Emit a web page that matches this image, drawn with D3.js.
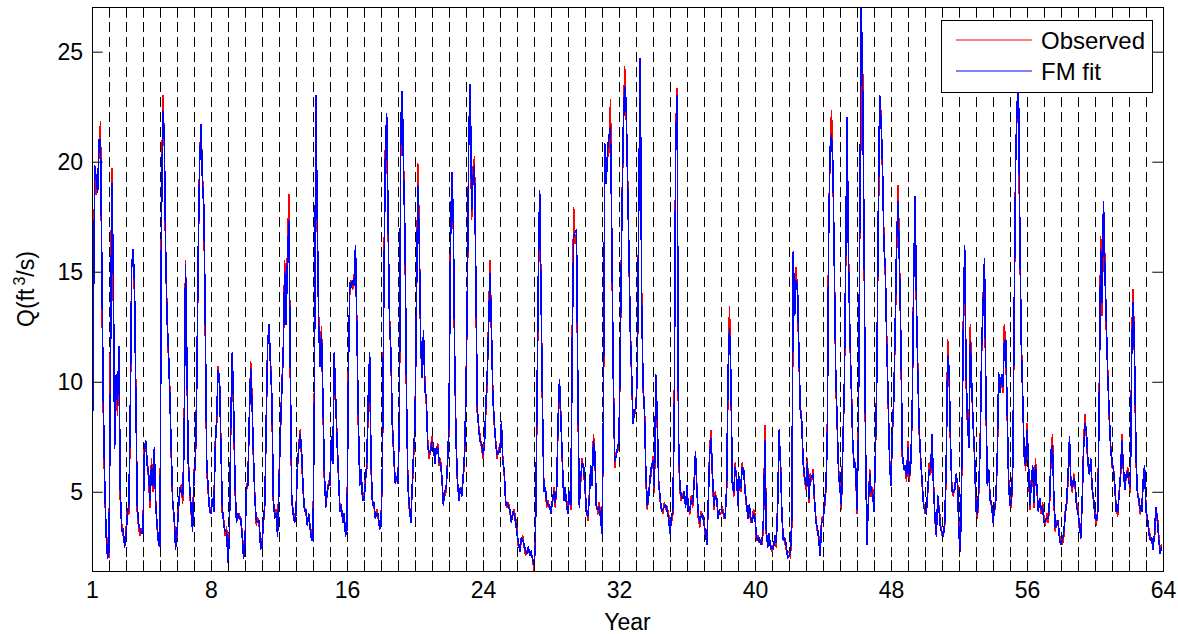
<!DOCTYPE html>
<html>
<head>
<meta charset="utf-8">
<script src="https://cdn.jsdelivr.net/npm/d3@7"></script>
<style>
  html, body { margin: 0; padding: 0; background: #fff; }
  svg { display: block; font-family: "Liberation Sans", Arial, Helvetica, sans-serif; }
</style>
</head>
<body>
<svg id="chart" width="1178" height="634"></svg>
<script>
// ---- data (monthly values, one row per year) ----
const observed = [
  5,15,19.5,18.5,19,20.5,21.8,14,8.5,5,3.2,2.5,
  2.0,12,19.7,14,7.5,10,8.5,11.0,4.5,3.5,3.0,2.8,
  3.2,4.2,4.0,8,15.5,15.7,14,9.5,4,3.3,3.0,3.3,
  3.3,7.2,7.0,6.5,5.5,4.3,6.5,5.0,6.8,4.5,3.3,2.8,
  2.7,17.5,23,21,15.5,13.2,11,9.6,6.5,4.3,4.0,2.5,
  3.0,4.3,5.0,5.3,4.5,7.5,15.5,10.5,6.5,5.0,4.0,3.4,
  6,6.0,10.3,15.6,20.4,21.5,19.4,17.5,12,6,5,4.3,
  4.2,4.5,4.3,7.3,8.0,10.7,10,7.3,4.0,3.7,3.0,3.4,
  2.0,3.2,8.0,10.8,8.5,5,3.8,3.8,4.0,3.6,3.2,2.2,
  2.8,5.0,5.6,8,10.9,9.3,6.3,4.8,3.5,3.8,3.5,2.6,
  2.7,3.5,4.6,8.0,12.0,12.2,11,9,4.5,4.0,4.2,3.2,
  5.6,7.5,10,11,15.5,13,16,18.5,10,4.5,4.2,3.8,
  4.2,6.0,7.2,7.8,6.5,5.0,4.3,4.0,3.7,3.8,3.5,3.0,
  3.0,10,22.3,17,13,11,12.5,9,5.6,4.5,4.8,5.5,
  5.5,7.3,6.5,10.8,9.0,7.5,5.6,4.3,4.2,3.8,3.8,3.2,
  3.5,11,14.2,14.6,14.2,14.8,15.5,12.6,8,5.5,5.8,4.8,
  4.8,5.6,6.1,9.0,10.8,6,4.6,4.3,4.0,4.2,3.8,3.5,
  3.7,5.8,14.6,20.5,21.5,17,13.1,11,8.3,6.5,5.6,5.5,
  5.6,8,21.3,22.5,19.7,16,9,5.5,4.2,3.8,5.0,6.5,
  8.3,13,19.9,16.9,11.5,10.5,12,10,9,7.3,6.5,7.0,
  7.5,7.0,6.5,6.8,7.2,6.2,6.5,5.5,4.6,4.8,5.0,6.5,
  7.8,16.4,19.0,17.2,10.9,7.5,5.3,4.8,5.0,5.0,5.5,6.5,
  9.8,14,21.7,22.8,17.4,19.7,20.2,14,8.5,8.0,7.5,7.0,
  6.5,7.2,8.6,10,13,15.5,12,9.5,8.0,7.3,6.5,7.0,
  7.0,8.0,6.5,5.8,4.6,4.3,4.5,4.0,3.8,3.9,4.2,3.8,
  3.3,2.5,2.4,2.7,3.0,2.5,2.1,2.3,2.4,2.2,2.1,2.0,
  1.4,2.8,8,14.2,18.0,14.4,8.5,5.2,5.0,4.3,4.6,4.2,
  4.2,4.4,5.2,4.3,5.3,8,9.7,8.5,6.3,4.8,5.0,4.6,
  4.2,4.8,4.2,12.3,17.9,16.3,16.5,9,4.5,5.5,6.5,6.0,
  5.1,4.3,3.7,4.8,6.0,5.5,7.6,6.5,4.5,4.0,4.5,4.0,
  3.3,8,20.3,19.5,20.2,20.5,22.8,15.6,10.4,6.1,6.8,6.8,
  7.5,11.6,17.7,21.0,24.3,22.3,19.7,15.6,12.6,9.8,8.3,8.5,
  9.0,10.3,18.9,24.0,14.2,9.6,9.0,5.5,4.2,5.0,5.5,6.0,
  6.6,5.0,9.8,8,5.5,4.6,4.3,4.0,4.5,4.2,4.3,4.0,
  3.3,3.6,4.0,9,21.3,23.3,7,5.0,4.6,4.9,4.8,4.5,
  5.1,4.3,4.0,4.8,4.3,5.5,6.5,5.2,3.8,3.4,4.1,3.8,
  3.7,3.0,2.8,4.3,7.0,7.8,5.5,4.2,5.0,4.5,4.0,4.0,
  4.0,4.3,3.8,4.0,5,10,13.4,9.9,5.5,4.8,6.3,5.5,
  4.6,5.5,5.0,6.3,5.8,5.2,4.3,4.0,4.2,3.6,3.8,4.2,
  4.0,2.8,3.0,2.7,2.8,2.6,3.5,8.0,3.0,2.7,2.9,2.6,
  2.3,2.6,2.8,2.5,4.5,7.4,6.5,3.8,3.0,2.7,2.4,2.2,
  2.3,2.0,3.5,15.0,13.4,15.2,14,11,9,8,6.5,5.5,
  5.1,6.5,4.5,5.8,5.5,6.0,4.5,3.8,3.2,3.0,2.3,3.8,
  3.8,4.2,5.0,7.6,17.2,20.2,22.3,19.5,15.6,10,8.0,6.0,
  5.3,4.2,7.3,9.3,15,21.3,16,11.8,10,7,6.3,6.1,
  4.0,8,17.2,22.5,24.3,16,7,3.0,4.3,6.0,4.8,5.2,
  4.3,6.5,10.5,17,21.5,22.3,19.5,16.6,14.8,12,9,6.5,
  5.5,7.5,9.5,12.3,16,18.9,15.6,11.5,6.5,6.2,6.0,5.5,
  7.3,5.5,6.5,8.5,15,17.8,13.1,10.5,7.5,6.5,5.3,4.5,
  4.0,4.2,5.0,6.3,5.8,7.3,5.5,3.7,3.2,4.6,4.3,3.5,
  3.0,3.2,3.5,6,11.9,10.3,7,5.2,4.8,5.3,5.6,5.5,
  3.2,2.5,6,12.6,15.5,10,8,7.3,12.6,9.6,8.2,6.5,
  4.3,3.8,5,7.5,11.3,13.9,15.0,9,5.5,5.8,4.8,4.3,
  3.8,4.0,4.8,6.3,10,9.8,10,9.5,12.6,11.5,8.5,5.6,
  4.6,4.3,6.5,13,20.5,22.2,22.0,16,12,9,6.8,6.0,
  8.1,6.3,4.2,5.5,6.0,4.3,6.5,5.0,4.3,4.5,4.0,4.5,
  3.8,3.5,4.0,3.6,4.5,6.6,7.6,4.5,3.2,3.7,3.5,3.0,
  2.8,2.6,3.0,4.1,4.4,5.5,7.0,5.5,5.0,5.8,5.2,4.5,
  4.3,3.3,3.1,4.5,7.3,8.5,7.4,6.2,6.0,6.3,5.3,4.5,
  4.0,3.5,4.3,9.6,16.6,13,17.5,15.6,12.3,10.5,8.4,7.2,
  6.1,6.2,5.1,4.3,3.9,5,5.5,7.6,6,5.3,5.6,6.1,
  5.6,5.0,12.3,14.2,10.5,6.3,5.0,4.5,4.0,4.3,5.3,6.0,
  4.3,3.7,3.3,3.0,2.7,2.6,2.9,3.8,4.0,3.0,2.4,2.6
];
const fmFit = [
  4.2,13,19.8,19.2,18.6,21.0,21.0,15,9.0,5.4,3.0,2.0,
  2.3,10,19.0,15.3,7.0,10.3,9.0,11.6,5.0,3.2,3.3,2.5,
  3.0,4.0,4.4,8.6,15.2,16.0,14.5,9.0,4.3,3.5,3.3,3.1,
  3.1,7.0,7.3,6.2,5.8,4.6,6.2,5.3,7.0,4.3,3.5,2.6,
  2.5,17.0,22.3,21.3,16.0,12.8,11.4,9.2,6.8,4.5,3.8,2.4,
  3.2,4.1,5.2,5.0,4.8,7.0,15.3,11.0,6.2,5.2,4.2,3.2,
  5.8,6.3,10.0,16.0,20.0,21.7,19.0,17.9,12.5,6.3,5.2,4.1,
  4.0,4.7,4.1,7.0,8.4,10.5,10.3,7.0,4.3,3.5,3.2,3.2,
  1.8,3.0,8.3,11.3,8.8,5.3,3.6,4.0,3.8,3.8,3.0,2.0,
  2.6,5.2,5.3,8.3,10.6,9.0,6.6,4.6,3.7,3.6,3.7,2.4,
  2.5,3.7,4.4,8.3,11.7,12.6,10.7,9.3,4.7,3.8,4.0,3.0,
  5.3,7.8,9.6,11.4,15.0,12.6,15.7,17.3,10.5,4.7,4.0,3.6,
  4.0,6.2,7.0,7.6,6.8,5.2,4.1,4.2,3.5,4.0,3.3,2.8,
  2.8,9.5,23.0,17.6,12.6,10.7,12.2,9.3,5.9,4.3,5.0,5.3,
  5.3,7.5,6.3,11.3,9.3,7.2,5.8,4.1,4.4,3.6,4.0,3.0,
  3.3,10.5,14.5,14.3,14.6,14.4,16.2,12.2,8.4,5.3,6.0,4.6,
  4.6,5.4,6.4,9.3,11.3,6.3,4.4,4.5,3.8,4.0,4.0,3.3,
  3.5,6.2,14.0,20.0,22.2,17.5,12.7,11.4,8.0,6.8,5.4,5.7,
  5.4,8.4,21.8,23.2,19.3,16.5,9.4,5.2,4.4,3.6,5.2,6.8,
  8.0,13.4,18.9,16.5,11.9,10.2,12.3,9.6,9.3,7.0,6.8,6.8,
  7.3,7.2,6.3,7.0,7.0,6.4,6.3,5.7,4.4,5.0,5.2,6.3,
  8.2,16.0,19.5,17.6,11.3,7.2,5.5,4.6,5.2,4.8,5.7,6.8,
  9.5,14.5,21.3,23.5,17.8,19.3,19.8,14.5,8.8,7.8,7.3,7.2,
  6.7,7.0,8.9,10.4,12.6,14.9,12.4,9.2,8.2,7.1,6.7,6.8,
  6.8,8.2,6.3,6.0,4.4,4.5,4.3,4.2,3.6,4.1,4.0,3.6,
  3.1,2.7,2.3,2.9,2.8,2.6,2.3,2.2,2.5,2.1,2.3,1.9,
  1.7,2.6,8.5,14.6,18.7,13.8,8.9,5.0,5.2,4.5,4.4,4.4,
  4.0,4.6,5.0,4.5,5.1,8.3,10.1,8.2,6.5,4.6,5.2,4.4,
  4.0,5.0,4.4,11.8,16.6,16.8,16.9,9.5,4.3,5.7,6.3,6.2,
  5.3,4.1,3.9,4.6,6.2,5.3,7.3,6.8,4.3,4.2,4.3,3.8,
  3.1,8.5,20.8,19.0,20.6,21.2,21.6,16.2,10.0,6.4,6.6,7.0,
  7.3,12.0,17.3,21.5,23.4,22.8,19.3,16.0,12.2,10.2,8.1,8.7,
  8.8,10.6,18.4,24.7,13.6,9.9,8.6,5.8,4.4,4.8,5.7,6.2,
  6.4,5.2,10.3,8.4,5.3,4.8,4.1,4.2,4.3,4.4,4.1,3.8,
  3.1,3.8,4.2,8.4,20.8,23.0,7.5,5.2,4.8,4.7,5.0,4.3,
  5.3,4.1,4.2,4.6,4.5,5.3,6.8,5.0,4.0,3.6,3.9,4.0,
  3.5,3.2,2.6,4.5,6.7,7.4,5.8,4.4,4.8,4.7,3.8,4.2,
  4.2,4.1,4.0,3.8,5.3,10.5,12.4,10.3,5.3,5.0,6.1,5.7,
  4.4,5.7,5.2,6.1,6.0,5.0,4.5,3.8,4.4,3.8,3.6,4.0,
  3.8,3.0,2.8,2.9,2.6,2.8,3.8,7.3,3.2,2.5,3.1,2.4,
  2.5,2.4,3.0,2.7,4.3,7.8,6.2,4.0,2.8,2.9,2.6,2.0,
  2.1,2.2,3.8,15.9,13.0,14.6,14.4,11.4,8.7,8.2,6.3,5.7,
  5.3,6.3,4.7,5.6,5.7,5.8,4.7,3.6,3.4,2.8,2.1,3.6,
  3.6,4.4,5.2,7.2,16.6,20.6,21.2,19.9,15.2,10.4,8.2,5.8,
  5.1,4.4,7.0,9.6,15.5,22.0,15.5,12.2,9.6,7.3,6.1,6.3,
  4.2,7.6,17.6,27.0,23.5,16.5,7.4,2.6,4.5,5.8,5.0,5.0,
  4.1,6.8,10.2,17.5,23.0,21.8,19.9,16.2,15.2,11.6,9.3,6.3,
  5.3,7.8,9.2,12.7,16.5,18.2,15.2,11.9,6.8,6.0,6.2,5.7,
  7.0,5.7,6.3,8.9,14.6,18.4,13.5,10.1,7.8,6.3,5.5,4.3,
  4.2,4.0,5.2,6.0,6.0,7.6,5.2,3.9,3.0,4.8,4.1,3.3,
  3.2,3.0,3.7,6.4,11.2,10.6,7.3,5.0,5.0,5.1,5.8,5.3,
  3.0,2.3,6.4,12.2,16.2,10.4,8.3,7.0,11.8,9.9,8.0,6.7,
  4.1,4.0,5.3,7.2,11.6,13.5,15.6,9.4,5.3,6.0,4.6,4.5,
  3.6,4.2,4.6,6.6,10.4,9.5,10.3,9.8,11.8,11.9,8.8,5.4,
  4.4,4.5,6.2,13.5,20.0,22.6,23.5,16.5,11.6,9.3,6.6,6.2,
  7.8,6.5,4.4,5.3,6.2,4.5,6.2,5.2,4.1,4.7,4.2,4.3,
  3.6,3.7,3.8,3.8,4.7,6.9,7.1,4.7,3.4,3.5,3.7,2.8,
  2.6,2.8,3.2,3.9,4.6,5.8,7.5,5.3,5.2,5.6,5.4,4.3,
  4.1,3.5,2.9,4.7,7.0,8.1,7.7,6.4,5.8,6.5,5.1,4.7,
  3.8,3.7,4.1,9.2,16.0,13.6,18.2,15.0,12.7,10.2,8.7,7.0,
  6.3,6.0,5.3,4.1,4.1,4.8,5.8,7.3,6.2,5.1,5.8,5.9,
  5.4,5.2,11.8,13.6,10.9,6.6,4.8,4.7,4.2,4.1,5.5,6.2,
  4.1,3.9,3.1,2.8,2.9,2.4,3.1,4.3,3.8,2.8,2.2,2.5
];
const seriesNames = ["Observed", "FM fit"];
const seriesColors = ["#ff0000", "#0000ff"];
const startYear = 1;
const samplesPerYear = 12;
const xDomain = [1, 64];
const yDomain = [1.4, 27.03];
const xTickLabels = [1, 8, 16, 24, 32, 40, 48, 56, 64];
const yTickLabels = [5, 10, 15, 20, 25];
const xLabel = "Year";

// ---- layout ----
const W = 1178, H = 634;
const m = { left: 92, right: 1163, top: 7, bottom: 571 };
const svg = d3.select("#chart");
svg.append("rect").attr("width", W).attr("height", H).attr("fill", "#fff");

const x = d3.scaleLinear().domain(xDomain).range([m.left, m.right]);
const y = d3.scaleLinear().domain(yDomain).range([m.bottom, m.top]);

const clipId = "plotclip";
svg.append("clipPath").attr("id", clipId).append("rect")
  .attr("x", m.left).attr("y", m.top).attr("width", m.right - m.left).attr("height", m.bottom - m.top);

// dashed year separators
const yearLines = d3.range(xDomain[0] + 1, xDomain[1]);
svg.append("g").attr("class", "grid").selectAll("line").data(yearLines).join("line")
  .attr("x1", d => Math.round(x(d)) + 0.5).attr("x2", d => Math.round(x(d)) + 0.5)
  .attr("y1", m.top).attr("y2", m.bottom)
  .attr("stroke", "#000").attr("stroke-width", 1)
  .attr("stroke-dasharray", "10,5");

// series
const tOf = i => startYear + i / samplesPerYear;
const line = d3.line().x((d, i) => x(tOf(i))).y(d => y(d));
const gLines = svg.append("g").attr("clip-path", `url(#${clipId})`);
[observed, fmFit].forEach((s, k) => {
  gLines.append("path").datum(s)
    .attr("d", line)
    .attr("fill", "none")
    .attr("stroke", seriesColors[k])
    .attr("stroke-width", 1.6)
    .attr("stroke-linejoin", "round")
    .attr("stroke-linecap", "round")
    .attr("shape-rendering", "crispEdges");
});

// axes (MATLAB-like: inward ticks, box)
const tickLen = 10.7;
const fontSize = 23;
const xAxisB = d3.axisBottom(x).tickValues(d3.range(xDomain[0], xDomain[1] + 1))
  .tickSizeInner(-tickLen).tickSizeOuter(0)
  .tickFormat(d => xTickLabels.includes(d) ? d : "");
const gx = svg.append("g").attr("transform", `translate(0,${m.bottom})`).call(xAxisB);
gx.selectAll("text").attr("font-size", fontSize).attr("fill", "#000").attr("dy", "1.05em")
  .attr("font-family", '"Liberation Sans", Arial, sans-serif');
const xAxisT = d3.axisTop(x).tickValues(d3.range(xDomain[0], xDomain[1] + 1))
  .tickSizeInner(-tickLen).tickSizeOuter(0).tickFormat("");
svg.append("g").attr("transform", `translate(0,${m.top})`).call(xAxisT);

const yAxisL = d3.axisLeft(y).tickValues(yTickLabels).tickSizeInner(-tickLen).tickSizeOuter(0).tickPadding(9);
const gy = svg.append("g").attr("transform", `translate(${m.left},0)`).call(yAxisL);
gy.selectAll("text").attr("font-size", fontSize).attr("fill", "#000")
  .attr("font-family", '"Liberation Sans", Arial, sans-serif');
const yAxisR = d3.axisRight(y).tickValues(yTickLabels).tickSizeInner(-tickLen).tickSizeOuter(0).tickFormat("");
svg.append("g").attr("transform", `translate(${m.right},0)`).call(yAxisR);

svg.selectAll(".domain").remove();
svg.selectAll(".tick line").attr("stroke", "#000");

// box
svg.append("rect").attr("x", m.left + 0.5).attr("y", m.top + 0.5)
  .attr("width", m.right - m.left).attr("height", m.bottom - m.top)
  .attr("fill", "none").attr("stroke", "#000").attr("stroke-width", 1);

// axis labels
svg.append("text").attr("x", (m.left + m.right) / 2).attr("y", 630)
  .attr("text-anchor", "middle").attr("font-size", fontSize).text(xLabel);
const yl = svg.append("text").attr("transform", `translate(34,${(m.top + m.bottom) / 2}) rotate(-90)`)
  .attr("text-anchor", "middle").attr("font-size", fontSize);
yl.append("tspan").text("Q(ft");
yl.append("tspan").attr("font-size", 16).attr("dy", -9).attr("dx", 3).text("3");
yl.append("tspan").attr("dy", 9).text("/s)");

// legend
const lg = svg.append("g");
lg.append("rect").attr("x", 941.5).attr("y", 20.5).attr("width", 211).attr("height", 72)
  .attr("fill", "#fff").attr("stroke", "#000").attr("stroke-width", 1);
const legendRows = [40, 71];
seriesNames.forEach((name, i) => {
  lg.append("line").attr("x1", 956).attr("x2", 1032).attr("y1", legendRows[i]).attr("y2", legendRows[i])
    .attr("stroke", seriesColors[i]).attr("stroke-width", 1.2);
  lg.append("text").attr("x", 1041).attr("y", legendRows[i] + 8.5)
    .attr("font-size", 24).attr("fill", "#000").text(name);
});
</script>
</body>
</html>
